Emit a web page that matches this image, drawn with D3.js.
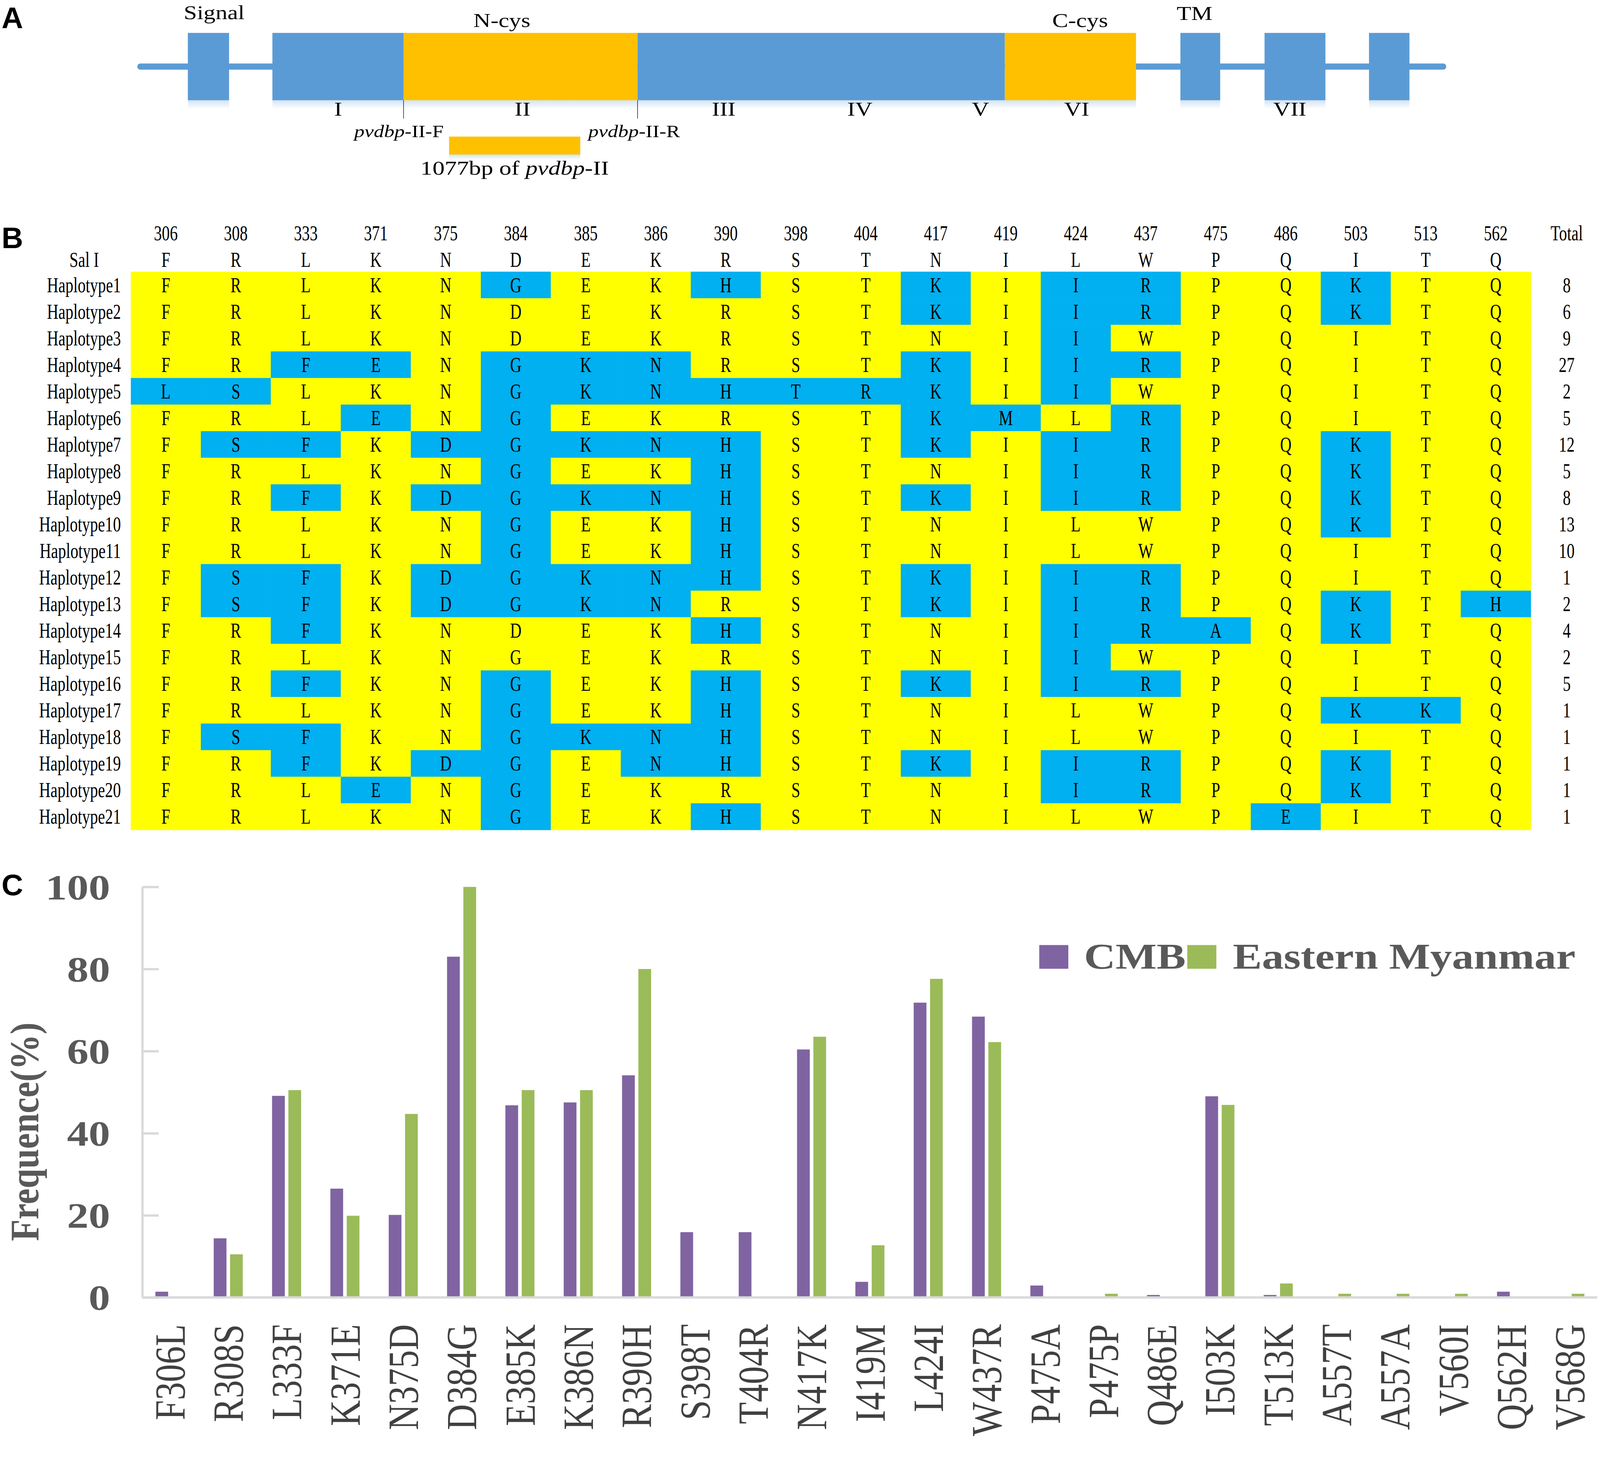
<!DOCTYPE html>
<meta charset='utf-8'>
<style>
html, body { margin: 0; padding: 0; background: #fff; overflow: hidden; }
svg { display: block; width: 100vw; height: 100vh; }
.serif { font-family: 'Liberation Serif', 'Times New Roman', serif; }
.panel-tag { font-family: 'Liberation Sans', Arial, sans-serif; font-weight: bold; font-size: 78px; }
</style>
<body>
<div id='figure'></div>

<script src='https://cdn.jsdelivr.net/npm/d3@7/dist/d3.min.js'></script>
<script>

// ---- panel A : schematic of the protein (schematic units 0..1000) ----
const backbone = [0, 1000];
const blockSpans = [[38.6, 70.1], [796.9, 827.3], [861.2, 907.7], [941.0, 971.9]];
const mainSegments = [
    {start: 103.2, end: 203.4, kind: 'plain'},
    {start: 203.4, end: 382.2, kind: 'cys'},
    {start: 382.2, end: 662.8, kind: 'plain'},
    {start: 662.8, end: 763.0, kind: 'cys'}
];
const regionNames = ['I', 'II', 'III', 'IV', 'V', 'VI', 'VII'];
const regionAt = [153.4, 294.3, 448.0, 552.0, 644.1, 717.7, 880.5];
const featureNames = ['Signal', 'N-cys', 'C-cys', 'TM'];
const featureAt = [58.7, 278.5, 720.3, 807.7];
const primerAt = [203.4, 382.2];
const ampliconSpan = [238.2, 338.4];

// ---- panel B : haplotype table ----
const positions = ['306', '308', '333', '371', '375', '384', '385', '386', '390', '398',
                   '404', '417', '419', '424', '437', '475', '486', '503', '513', '562'];
const salI = 'FRLKNDEKRSTNILWPQITQ';
const haplotypes = d3.range(1, 22).map(function(i) { return 'Haplotype' + i; });
const sequences = [
    'FRLKNGEKHSTKIIRPQKTQ', 'FRLKNDEKRSTKIIRPQKTQ', 'FRLKNDEKRSTNIIWPQITQ',
    'FRFENGKNRSTKIIRPQITQ', 'LSLKNGKNHTRKIIWPQITQ', 'FRLENGEKRSTKMLRPQITQ',
    'FSFKDGKNHSTKIIRPQKTQ', 'FRLKNGEKHSTNIIRPQKTQ', 'FRFKDGKNHSTKIIRPQKTQ',
    'FRLKNGEKHSTNILWPQKTQ', 'FRLKNGEKHSTNILWPQITQ', 'FSFKDGKNHSTKIIRPQITQ',
    'FSFKDGKNRSTKIIRPQKTH', 'FRFKNDEKHSTNIIRAQKTQ', 'FRLKNGEKRSTNIIWPQITQ',
    'FRFKNGEKHSTKIIRPQITQ', 'FRLKNGEKHSTNILWPQKKQ', 'FSFKNGKNHSTNILWPQITQ',
    'FRFKDGENHSTKIIRPQKTQ', 'FRLENGEKRSTNIIRPQKTQ', 'FRLKNGEKHSTNILWPEITQ'
];
const totals = [8, 6, 9, 27, 2, 5, 12, 5, 8, 13, 10, 1, 2, 4, 2, 5, 1, 1, 1, 1, 1];
// cells that differ from Sal I but are left unshaded in the original
const unshaded = [['Haplotype15', '384']];

// ---- panel C : mutation frequencies ----
const mutations = ['F306L', 'R308S', 'L333F', 'K371E', 'N375D', 'D384G', 'E385K', 'K386N',
                   'R390H', 'S398T', 'T404R', 'N417K', 'I419M', 'L424I', 'W437R', 'P475A',
                   'P475P', 'Q486E', 'I503K', 'T513K', 'A557T', 'A557A', 'V560I', 'Q562H', 'V568G'];
const cmbFreq = [1.4, 14.4, 49.1, 26.5, 20.1, 83.0, 46.8, 47.5, 54.1, 15.9, 15.9, 60.4, 3.8,
                 71.8, 68.4, 2.9, 0, 0.6, 49.0, 0.6, 0, 0, 0, 1.4, 0];
const emFreq = [0, 10.5, 50.5, 19.9, 44.7, 100, 50.5, 50.5, 80.0, 0, 0, 63.5, 12.7,
                77.6, 62.2, 0, 0.9, 0, 46.9, 3.4, 0.9, 0.9, 0.9, 0, 0.9];
const seriesNames = ['CMB', 'Eastern Myanmar'];
const yTicks = [0, 20, 40, 60, 80, 100];

const W = 4183, H = 3757;
const svg = d3.select('#figure').append('svg')
    .attr('viewBox', '0 0 ' + W + ' ' + H)
    .attr('preserveAspectRatio', 'xMinYMin meet');

const defs = svg.append('defs');
const glow = defs.append('linearGradient')
    .attr('id', 'shade').attr('x1', 0).attr('y1', 0).attr('x2', 0).attr('y2', 1);
glow.append('stop').attr('offset', 0).attr('stop-color', '#5b9bd5').attr('stop-opacity', 0.28);
glow.append('stop').attr('offset', 1).attr('stop-color', '#5b9bd5').attr('stop-opacity', 0);

// helper: text stretched horizontally, as in the source figure
function stretched(g, x, y, sx, str) {
    return g.append('text')
        .attr('transform', 'translate(' + x + ',' + y + ') scale(' + sx + ',1)')
        .text(str);
}

drawPanelA();
drawPanelB();
drawPanelC();

function drawPanelA() {
    const g = svg.append('g').attr('class', 'serif');
    const x = d3.scaleLinear().domain([0, 1000]).range([359, 3781]);
    const top = 86, bottom = 262, mid = 174;
    const blue = '#5b9bd5', orange = '#ffc000';

    g.append('line')
        .attr('x1', x(backbone[0]) + 8).attr('x2', x(backbone[1]) - 8)
        .attr('y1', mid).attr('y2', mid)
        .attr('stroke', blue).attr('stroke-width', 16).attr('stroke-linecap', 'round');

    const allBoxes = blockSpans.map(function(s) { return {start: s[0], end: s[1], kind: 'plain'}; })
        .concat(mainSegments);

    g.selectAll('rect.shade').data(allBoxes).join('rect')
        .attr('class', 'shade')
        .attr('x', function(d) { return x(d.start); })
        .attr('width', function(d) { return x(d.end) - x(d.start); })
        .attr('y', bottom).attr('height', 22)
        .attr('fill', 'url(#shade)');

    g.selectAll('rect.box').data(allBoxes).join('rect')
        .attr('class', 'box')
        .attr('x', function(d) { return x(d.start); })
        .attr('width', function(d) { return x(d.end) - x(d.start); })
        .attr('y', top).attr('height', bottom - top)
        .attr('fill', function(d) { return d.kind === 'cys' ? orange : blue; });

    primerAt.forEach(function(p) {
        g.append('line')
            .attr('x1', x(p)).attr('x2', x(p))
            .attr('y1', bottom).attr('y2', 310)
            .attr('stroke', '#222').attr('stroke-width', 1.5);
    });

    regionNames.forEach(function(n, i) {
        stretched(g, x(regionAt[i]), 302, 1.2, n)
            .attr('text-anchor', 'middle').attr('font-size', 52);
    });

    const featureBase = [50, 70, 70, 52];
    featureNames.forEach(function(n, i) {
        stretched(g, x(featureAt[i]), featureBase[i], 1.2, n)
            .attr('text-anchor', 'middle').attr('font-size', 52);
    });

    const primerLabels = ['F', 'R'];
    primerAt.forEach(function(p, i) {
        const cx = i === 0 ? x(p) - 12 : x(p) - 9;
        const t = g.append('text')
            .attr('transform', 'translate(' + cx + ',358) scale(1.2,1)')
            .attr('text-anchor', 'middle').attr('font-size', 45);
        t.append('tspan').attr('font-style', 'italic').text('pvdbp');
        t.append('tspan').text('-II-' + primerLabels[i]);
    });

    g.append('rect')
        .attr('x', x(ampliconSpan[0])).attr('width', x(ampliconSpan[1]) - x(ampliconSpan[0]))
        .attr('y', 357).attr('height', 47)
        .attr('fill', orange);
    g.append('rect')
        .attr('x', x(ampliconSpan[0])).attr('width', x(ampliconSpan[1]) - x(ampliconSpan[0]))
        .attr('y', 404).attr('height', 14)
        .attr('fill', 'url(#shade)');

    const t = g.append('text')
        .attr('transform', 'translate(' + x((ampliconSpan[0] + ampliconSpan[1]) / 2) + ',456) scale(1.22,1)')
        .attr('text-anchor', 'middle').attr('font-size', 52);
    t.append('tspan').text('1077bp of ');
    t.append('tspan').attr('font-style', 'italic').text('pvdbp');
    t.append('tspan').text('-II');

    svg.append('text').attr('class', 'panel-tag')
        .attr('x', 4).attr('y', 74).text('A');
}

function drawPanelB() {
    const g = svg.append('g').attr('class', 'serif');
    const sx = 0.74, fs = 56;
    const x = d3.scaleBand().domain(positions).range([342, 342 + 183 * positions.length]);
    const y = d3.scaleBand().domain(haplotypes).range([710, 2169]);

    const cells = [];
    haplotypes.forEach(function(h, r) {
        positions.forEach(function(p, c) {
            const aa = sequences[r][c];
            const skip = unshaded.some(function(u) { return u[0] === h && u[1] === p; });
            cells.push({h: h, p: p, aa: aa, changed: aa !== salI[c] && !skip});
        });
    });

    g.selectAll('rect.cell').data(cells).join('rect')
        .attr('class', 'cell')
        .attr('x', function(d) { return x(d.p); })
        .attr('y', function(d) { return y(d.h); })
        .attr('width', x.bandwidth() + 0.6)
        .attr('height', y.bandwidth() + 0.6)
        .attr('fill', function(d) { return d.changed ? '#00b0f0' : '#ffff00'; });

    g.selectAll('text.aa').data(cells).join('text')
        .attr('class', 'aa')
        .attr('transform', function(d) {
            return 'translate(' + (x(d.p) + x.bandwidth() / 2) + ',' + (y(d.h) + y.bandwidth() / 2 + 19) + ') scale(' + sx + ',1)';
        })
        .attr('text-anchor', 'middle').attr('font-size', fs)
        .text(function(d) { return d.aa; });

    // header rows
    positions.forEach(function(p, c) {
        const cx = x(p) + x.bandwidth() / 2;
        stretched(g, cx, 628, sx, p).attr('text-anchor', 'middle').attr('font-size', fs);
        stretched(g, cx, 698, sx, salI[c]).attr('text-anchor', 'middle').attr('font-size', fs);
    });
    stretched(g, 4096, 628, sx, 'Total').attr('text-anchor', 'middle').attr('font-size', fs);
    stretched(g, 220, 698, sx, 'Sal I').attr('text-anchor', 'middle').attr('font-size', fs);

    haplotypes.forEach(function(h, r) {
        const cy = y(h) + y.bandwidth() / 2 + 19;
        stretched(g, 316, cy, sx, h).attr('text-anchor', 'end').attr('font-size', fs);
        stretched(g, 4096, cy, sx, totals[r]).attr('text-anchor', 'middle').attr('font-size', fs);
    });

    svg.append('text').attr('class', 'panel-tag')
        .attr('x', 4).attr('y', 648).text('B');
}

function drawPanelC() {
    const g = svg.append('g').attr('class', 'serif');
    const grey = '#595959';
    const y0 = 3391, y100 = 2318, xAxis0 = 372;
    const x = d3.scaleBand().domain(mutations).range([368, 368 + 152.5 * mutations.length]);
    const y = d3.scaleLinear().domain([0, 100]).range([y0, y100]);
    const colors = d3.scaleOrdinal().domain(seriesNames).range(['#8064a2', '#9bbb59']);

    const rows = mutations.map(function(m, i) {
        return {m: m, values: [{s: seriesNames[0], v: cmbFreq[i]}, {s: seriesNames[1], v: emFreq[i]}]};
    });

    const groups = g.selectAll('g.grp').data(rows).join('g')
        .attr('class', 'grp')
        .attr('transform', function(d) { return 'translate(' + (x(d.m) + x.bandwidth() / 2 - 38) + ',0)'; });

    const inner = d3.scaleBand().domain(seriesNames).range([0, 76]).paddingInner(0.22);

    groups.selectAll('rect').data(function(d) { return d.values; }).join('rect')
        .attr('x', function(d) { return inner(d.s); })
        .attr('width', inner.bandwidth())
        .attr('y', function(d) { return y(d.v); })
        .attr('height', function(d) { return y0 - y(d.v); })
        .attr('fill', function(d) { return colors(d.s); });

    // y axis
    const yAxis = d3.axisLeft(y).tickValues(yTicks).tickSizeInner(-43).tickSizeOuter(0).tickPadding(84);
    const gy = g.append('g')
        .attr('transform', 'translate(' + xAxis0 + ',0)')
        .call(yAxis);
    gy.select('.domain').attr('stroke', '#d9d9d9').attr('stroke-width', 6);
    gy.selectAll('.tick line').attr('stroke', '#d9d9d9').attr('stroke-width', 6);
    gy.selectAll('.tick text').remove();
    gy.selectAll('.tick').each(function(d) {
        stretched(d3.select(this), -84, 32, 1.2, d)
            .attr('text-anchor', 'end')
            .attr('font-size', 94).attr('font-weight', 'bold')
            .attr('fill', grey)
            .attr('font-family', "'Liberation Serif', serif");
    });

    // x axis
    const xAxis = d3.axisBottom(x).tickSize(0).tickPadding(0);
    const gx = g.append('g')
        .attr('transform', 'translate(0,' + y0 + ')')
        .call(xAxis);
    gx.select('.domain').attr('d', 'M' + xAxis0 + ',0H4176')
        .attr('stroke', '#d9d9d9').attr('stroke-width', 6);
    gx.selectAll('.tick text').remove();
    gx.selectAll('.tick').each(function(d) {
        d3.select(this).append('text')
            .attr('transform', 'translate(0,70) scale(1.2,1) rotate(-90)')
            .attr('text-anchor', 'end')
            .attr('dy', '0.34em')
            .attr('font-size', 94)
            .attr('fill', '#404040')
            .attr('font-family', "'Liberation Serif', serif")
            .text(d);
    });

    // y title
    g.append('text')
        .attr('transform', 'translate(100,2958) scale(1.15,1) rotate(-90)')
        .attr('text-anchor', 'middle')
        .attr('font-size', 93).attr('font-weight', 'bold')
        .attr('fill', grey)
        .text('Frequence(%)');

    // legend
    const legendX = [2717, 3104], textX = [2834, 3223];
    seriesNames.forEach(function(s, i) {
        g.append('rect')
            .attr('x', legendX[i]).attr('y', 2470)
            .attr('width', 76).attr('height', 62)
            .attr('fill', colors(s));
        stretched(g, textX[i], 2532, 1.2, s)
            .attr('font-size', 95).attr('font-weight', 'bold')
            .attr('fill', grey);
    });

    svg.append('text').attr('class', 'panel-tag')
        .attr('x', 4).attr('y', 2340).text('C');
}

</script>
</body>
